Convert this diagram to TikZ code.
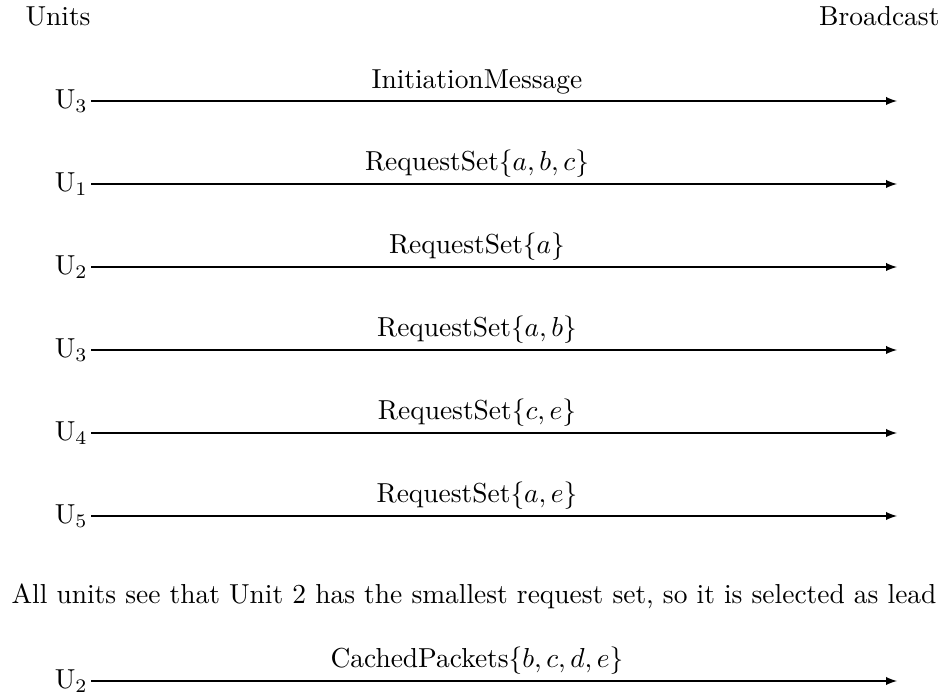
\documentclass[tikz,border=0pt]{standalone}
\usetikzlibrary{arrows}
\begin{document}
\begin{tikzpicture}[x=0.3643pt,y=-0.3643pt,
  unit/.style={anchor=east, inner xsep=1pt, inner ysep=0pt},
  msg/.style={anchor=base, inner sep=0pt},
  head/.style={inner sep=0pt},
  bcast/.style={-latex, line width=0.4pt}]
\useasboundingbox (0,0) rectangle (947,694);
% column headings
\node[head, anchor=base west] (units) at (25,26) {Units};
\node[head, anchor=base east] (bcast) at (940,26) {Broadcast};
% broadcast messages: row y / unit index / label baseline / label / name
\foreach \y/\u/\ly/\lbl/\n in {
    101/3/88.5/{InitiationMessage}/a,
    184/1/171/{RequestSet$\{a, b, c\}$}/b,
    267/2/254/{RequestSet$\{a\}$}/c,
    350/3/337/{RequestSet$\{a, b\}$}/d,
    433/4/420/{RequestSet$\{c, e\}$}/e,
    516/5/503/{RequestSet$\{a, e\}$}/f,
    681/2/668/{CachedPackets$\{b, c, d, e\}$}/g}{
  \node[unit] (u\n) at (91,\y) {U$_{\u}$};
  \coordinate (t\n) at (897,\y);
  \draw[bcast] (u\n.east) -- (t\n);
  \node[msg] (m\n) at (477,\ly) {\lbl};
}
% lead selection note
\node[msg] (note) at (474,604) {All units see that Unit 2 has the smallest request set, so it is selected as lead};
\end{tikzpicture}
\end{document}
